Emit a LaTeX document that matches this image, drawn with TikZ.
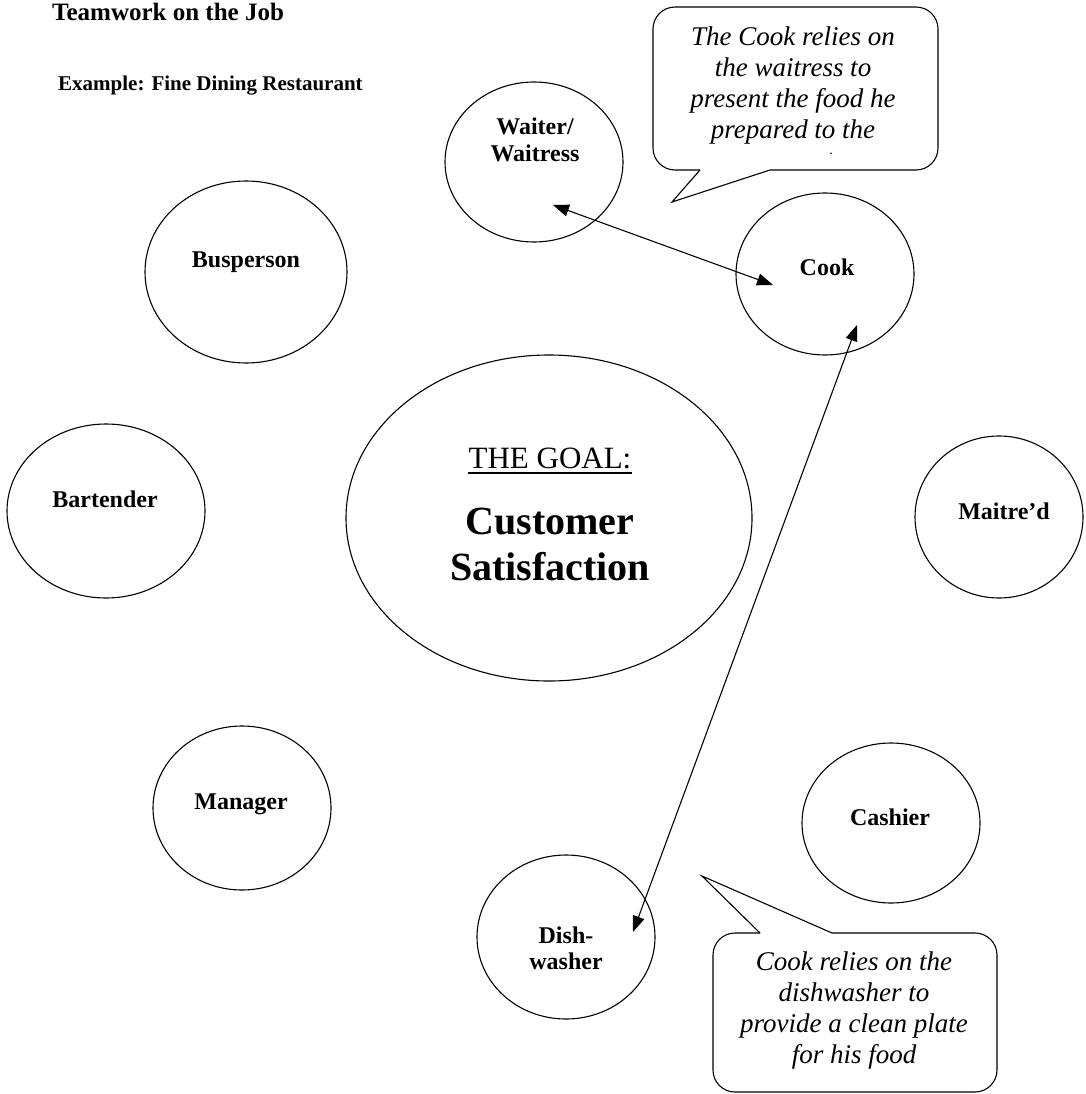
\documentclass[tikz,border=0pt]{standalone}
\usepackage{fontspec}
\setmainfont{Liberation Serif}
\usetikzlibrary{shapes.geometric,arrows.meta}
\tikzset{
  role/.style={draw, ellipse, inner sep=0pt, line width=1.1pt},
  roletxt/.style={inner sep=0pt, align=center, font=\fontsize{24}{27}\selectfont\bfseries},
  saytxt/.style={inner sep=0pt, align=center, anchor=north, font=\fontsize{27}{31}\selectfont\itshape},
  bubble/.style={line width=1.1pt},
  link/.style={line width=1.1pt, {Triangle[length=16pt,width=12pt]}-{Triangle[length=16pt,width=12pt]}}
}
\begin{document}
\begin{tikzpicture}[x=1pt,y=-1pt]
\useasboundingbox (0,0) rectangle (1085,1094);
\node[anchor=base west, inner sep=0pt, font=\fontsize{25}{25}\selectfont\bfseries] (title) at (52,21) {Teamwork on the Job};
\node[anchor=base west, inner sep=0pt, font=\fontsize{21}{21}\selectfont\bfseries] (sub) at (58,91) {Example: Fine Dining Restaurant};

\node[role, minimum width=406pt, minimum height=326pt] (goal) at (549,518) {};
\node[role, minimum width=178pt, minimum height=160pt] (waiter) at (534,162) {};
\node[role, minimum width=202pt, minimum height=182pt] (bus) at (246,272) {};
\node[role, minimum width=178pt, minimum height=162pt] (cook) at (825,274) {};
\node[role, minimum width=198pt, minimum height=174pt] (bar) at (106,511) {};
\node[role, minimum width=168pt, minimum height=162pt] (maitre) at (999,517) {};
\node[role, minimum width=178pt, minimum height=164pt] (mgr) at (242,808) {};
\node[role, minimum width=178pt, minimum height=160pt] (cashier) at (891,823) {};
\node[role, minimum width=178pt, minimum height=164pt] (dish) at (566,937) {};

\node[roletxt, anchor=base] (bus-t) at (246,267.5) {Busperson};
\node[roletxt, anchor=base] (bar-t) at (105,507.5) {Bartender};
\node[roletxt, anchor=base] (cook-t) at (827,275.5) {Cook};
\node[roletxt, anchor=base] (maitre-t) at (1004,519.5) {Maitre'd};
\node[roletxt, anchor=base] (mgr-t) at (241,809.5) {Manager};
\node[roletxt, anchor=base] (cashier-t) at (890,825.5) {Cashier};
\node[roletxt] (waiter-t) at (535,140) {Waiter/\\Waitress};
\node[roletxt, font=\fontsize{24}{26}\selectfont\bfseries] (dish-t) at (566,948) {Dish-\\washer};

\node[inner sep=0pt, anchor=base, font=\fontsize{31}{31}\selectfont] (goal-t) at (550,468) {THE GOAL:};
\draw[line width=1.5pt] ([yshift=-5pt]goal-t.base west) -- ([yshift=-5pt]goal-t.base east);
\node[inner sep=0pt, align=center, font=\fontsize{40}{46}\selectfont\bfseries] (goal-c) at (550,544) {Customer\\Satisfaction};

\draw[bubble, rounded corners=22pt] (700,170) -- (653,170) -- (653,7) -- (938,7) -- (938,170) -- (770,170);
\draw[bubble] (700,170) -- (672,202) -- (770,170);
\node[saytxt] (say-cook) at (793,26.6) {The Cook relies on\\the waitress to\\present the food he\\prepared to the};
\node[inner sep=0pt, font=\fontsize{14}{14}\selectfont] (say-dot) at (831,154) {.};

\draw[bubble, rounded corners=22pt] (760,933) -- (713,933) -- (713,1092) -- (997,1092) -- (997,933) -- (832,933);
\draw[bubble] (760,933) -- (702,876) -- (832,933);
\node[saytxt] (say-dish) at (854,952) {Cook relies on the\\dishwasher to\\provide a clean plate\\for his food};

\coordinate (waiter-in) at ([shift={(19,43)}]waiter.center);
\coordinate (cook-w) at ([shift={(-52,11)}]cook.center);
\coordinate (cook-s) at ([shift={(32,51)}]cook.center);
\coordinate (dish-in) at ([shift={(67,-5)}]dish.center);
\draw[link] (waiter-in) -- (cook-w);
\draw[link] (dish-in) -- (cook-s);
\end{tikzpicture}
\end{document}
